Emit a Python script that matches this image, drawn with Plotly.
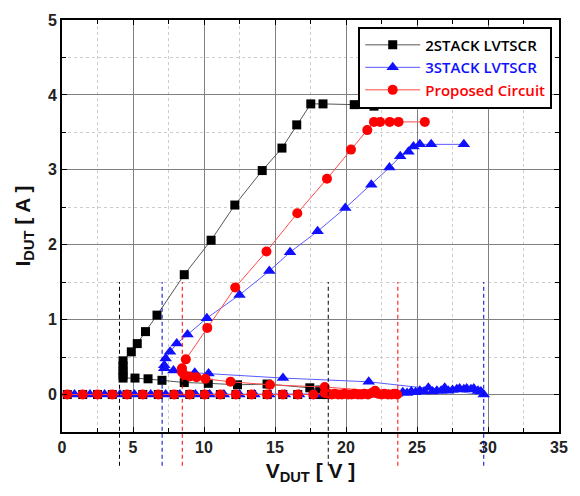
import plotly.graph_objects as go

# ---------------- data ----------------
# 2STACK LVTSCR
black_off_v = [0.37, 1.46, 2.5, 3.54, 4.58, 5.69, 6.78, 7.9, 9.0, 10.05, 11.15, 12.25, 13.35, 14.45,
               15.55, 16.6, 17.7, 18.3, 18.6]
black_off_i = [0.0] * len(black_off_v)
black_on_v = [18.15, 17.45, 14.44, 12.36, 10.3, 8.61, 7.04, 6.06, 5.14, 4.3, 4.3, 4.3, 4.3, 4.3,
              4.88, 5.3, 5.88, 6.69, 8.61, 10.5, 12.17, 14.1, 15.49, 16.53, 17.52, 18.38, 20.58, 21.97]
black_on_i = [0.06, 0.09, 0.14, 0.13, 0.15, 0.16, 0.19, 0.21, 0.22, 0.22, 0.26, 0.32, 0.38, 0.45,
              0.57, 0.68, 0.84, 1.06, 1.60, 2.06, 2.53, 2.99, 3.29, 3.60, 3.88, 3.88, 3.87, 3.85]

# 3STACK LVTSCR
blue_off_v = [0.88, 1.97, 3.0, 4.08, 5.1, 6.25, 7.3, 8.3, 9.4, 10.4, 11.4, 12.5, 13.55, 14.6, 15.7,
              16.7, 17.8, 18.8, 19.9, 20.9, 22.0, 23.0, 23.3, 23.6, 24.0, 24.3, 24.6, 24.9, 25.2,
              25.5, 25.8, 26.1, 26.4, 26.7, 26.95, 27.2, 27.5, 27.8, 28.0, 28.3, 28.5, 28.8, 29.0,
              29.3, 29.5, 29.7]
blue_off_i = [0.0] * 22 + [0.0, 0.01, 0.03, 0.02, 0.04, 0.03, 0.05, 0.04, 0.09, 0.04, 0.05, 0.05,
                           0.09, 0.05, 0.06, 0.07, 0.08, 0.07, 0.08, 0.07, 0.08, 0.05, 0.04, 0.0]
blue_on_v = [21.6, 15.56, 10.32, 9.35, 7.85, 7.2, 7.2, 7.3, 7.61, 8.08, 8.84, 10.2, 12.5, 14.6, 16.06,
             18.0, 19.95, 21.78, 23.06, 23.82, 24.4, 24.75, 25.2, 26.0, 28.3]
blue_on_i = [0.17, 0.22, 0.28, 0.29, 0.32, 0.35, 0.39, 0.48, 0.57, 0.68, 0.80, 1.02, 1.33, 1.65, 1.90,
             2.18, 2.49, 2.80, 3.03, 3.18, 3.24, 3.31, 3.34, 3.34, 3.34]

# Proposed Circuit
red_off_v = [0.37, 1.46, 2.5, 3.54, 4.58, 5.69, 6.78, 7.9, 9.0, 10.05, 11.15, 12.25, 13.35, 14.45,
             15.55, 16.6, 17.7, 18.5, 18.75, 19.0, 19.2, 19.45, 19.7, 19.9, 20.15, 20.4, 20.6, 20.85,
             21.1, 21.3, 21.55, 21.8, 22.0, 22.25, 22.5, 22.7, 22.95, 23.2, 23.4, 23.6]
red_off_i = [0.0] * 17 + [0.02, 0.01, 0.0, 0.01, 0.0, 0.0, 0.01, 0.0, 0.0, 0.01, 0.0, 0.0, 0.01,
                          0.0, 0.02, 0.03, 0.01, 0.0, 0.01, 0.0, 0.0, 0.01, 0.0]
red_on_v = [22.05, 18.5, 14.65, 11.87, 10.1, 9.47, 9.0, 8.61, 8.45, 8.45, 8.72, 10.23, 12.2, 14.4,
            16.57, 18.66, 20.35, 21.5, 21.97, 22.4, 23.08, 23.7, 25.55]
red_on_i = [0.05, 0.10, 0.13, 0.17, 0.21, 0.23, 0.24, 0.26, 0.30, 0.35, 0.47, 0.89, 1.43, 1.91,
            2.42, 2.88, 3.27, 3.53, 3.64, 3.64, 3.64, 3.64, 3.64]

# dashed markers of trigger / holding voltages
black_marks = [4.05, 18.75]
blue_marks = [7.05, 29.7]
red_marks = [8.47, 23.65]

names = ["2STACK LVTSCR", "3STACK LVTSCR", "Proposed Circuit"]

# ---------------- figure ----------------
fig = go.Figure()

series = [
    (black_off_v + black_on_v, black_off_i + black_on_i, names[0], "#000000", "#555555", "square", 9),
    (blue_off_v + blue_on_v, blue_off_i + blue_on_i, names[1], "#1010ff", "#5a5aff", "triangle-up", 11),
    (red_off_v + red_on_v, red_off_i + red_on_i, names[2], "#ff0000", "#ff4a4a", "circle", 10),
]
for vx, iy, nm, mc, lc, sym, sz in series:
    fig.add_trace(go.Scatter(
        x=vx, y=iy, mode="lines+markers",
        name='<span style="color:%s">%s</span>' % (mc, nm),
        line=dict(color=lc, width=1),
        marker=dict(symbol=sym, size=sz, color=mc, line=dict(width=0)),
        cliponaxis=False,
    ))

for marks, col in [(black_marks, "#000000"), (blue_marks, "#0000cc"), (red_marks, "#ff0000")]:
    for m in marks:
        fig.add_shape(type="line", xref="x", yref="paper", x0=m, x1=m, y0=-0.082, y1=0.364,
                      line=dict(color=col, width=1, dash="4px,3px"))

axis_common = dict(
    showline=True, linewidth=2, linecolor="#000", mirror="allticks",
    ticks="inside", ticklen=5, tickwidth=1, tickcolor="#000",
    showgrid=True, gridcolor="#808080", gridwidth=1,
    zeroline=False,
    tickfont=dict(family="Arial", size=16, color="#222", weight="bold"),
)

fig.update_xaxes(
    range=[0, 35], dtick=5, tick0=0,
    minor=dict(dtick=2.5, ticks="inside", ticklen=4, tickcolor="#000", showgrid=True,
               gridcolor="#cccccc", griddash="dot", gridwidth=1),
    title=dict(text="<b>V<sub>DUT</sub> [ V ]</b>", font=dict(family="Arial", size=21, color="#111"),
               standoff=8),
    **axis_common,
)
fig.update_yaxes(
    range=[-0.5, 5], dtick=1, tick0=0,
    minor=dict(dtick=0.5, ticks="inside", ticklen=4, tickcolor="#000", showgrid=True,
               gridcolor="#cccccc", griddash="dot", gridwidth=1),
    title=dict(text="<b>I<sub>DUT</sub> [ A ]</b>", font=dict(family="Arial", size=21, color="#111"),
               standoff=12),
    **axis_common,
)

fig.update_layout(
    width=580, height=496,
    margin=dict(l=62, r=13, t=16, b=64),
    paper_bgcolor="white", plot_bgcolor="white",
    legend=dict(x=0.596, y=0.984, xanchor="left", yanchor="top",
                bgcolor="white", bordercolor="#000", borderwidth=2,
                font=dict(family="Open Sans", size=15, color="#000", weight=600),
                tracegroupgap=0, itemwidth=55),
    showlegend=True,
)

fig.write_html("out.html")
